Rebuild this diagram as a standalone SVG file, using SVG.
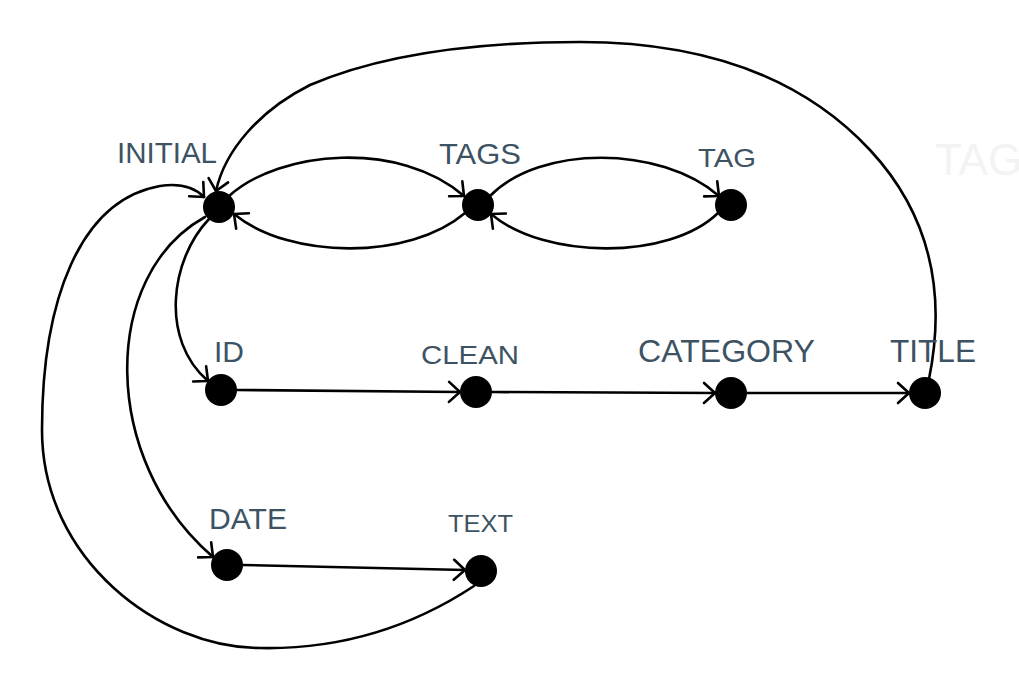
<svg xmlns="http://www.w3.org/2000/svg" width="1019" height="699" viewBox="0 0 1019 699">
<style>
.lbl{font-family:"Liberation Sans",Arial,sans-serif;fill:#3d5363}
.edge{fill:none;stroke:#000;stroke-width:2.6;stroke-linecap:round;marker-end:url(#arr)}
.node{fill:#000}
</style>
<defs>
<marker id="arr" markerUnits="userSpaceOnUse" viewBox="-14 -12 16 24" markerWidth="16" markerHeight="24" refX="0" refY="0" orient="auto">
<path d="M-11,-10 L0,0 L-11,10" fill="none" stroke="#000" stroke-width="2.6" stroke-linecap="round" stroke-linejoin="round"/>
</marker>
</defs>
<rect width="1019" height="699" fill="#fff"/>
<text x="935" y="175" font-size="44" font-family="Liberation Sans, Arial, sans-serif" fill="#f3f3f3">TAG</text>
<g id="connectors">
<path class="edge" d="M 929 379 C 945 300, 935 220, 870 150 C 800 75, 700 42, 580 42 C 470 42, 380 55, 310 85 C 260 110, 225 150, 216 191"/>
<path class="edge" d="M 229 196 C 280 150, 400 140, 464 196"/>
<path class="edge" d="M 465 213 C 410 260, 290 260, 234 214"/>
<path class="edge" d="M 490 196 C 540 145, 660 145, 719 196"/>
<path class="edge" d="M 718 213 C 670 260, 545 260, 491 214"/>
<path class="edge" d="M 209 219 C 170 260, 160 340, 208 381"/>
<path class="edge" d="M 205 217 C 100 275, 100 460, 213 557"/>
<path class="edge" d="M 474 586 C 430 615, 360 650, 260 648 C 160 648, 42 560, 42 430 C 42 300, 80 200, 160 186 C 180 183, 195 188, 204 197"/>
<path class="edge" d="M 237 390 L 460 392"/>
<path class="edge" d="M 492 392 L 715 393"/>
<path class="edge" d="M 747 393 L 909 393"/>
<path class="edge" d="M 243 565 L 465 570"/>
</g>
<g id="node-initial"><circle class="node" cx="219" cy="207" r="16"/><text class="lbl" x="117" y="163" font-size="29" textLength="100" lengthAdjust="spacingAndGlyphs">INITIAL</text></g>
<g id="node-tags"><circle class="node" cx="478" cy="205" r="16"/><text class="lbl" x="439" y="164" font-size="30" textLength="82" lengthAdjust="spacingAndGlyphs">TAGS</text></g>
<g id="node-tag"><circle class="node" cx="731" cy="205" r="16"/><text class="lbl" x="698" y="167" font-size="26" textLength="58" lengthAdjust="spacingAndGlyphs">TAG</text></g>
<g id="node-id"><circle class="node" cx="221" cy="390" r="16"/><text class="lbl" x="214" y="362" font-size="30" textLength="30" lengthAdjust="spacingAndGlyphs">ID</text></g>
<g id="node-clean"><circle class="node" cx="476" cy="392" r="16"/><text class="lbl" x="421" y="364" font-size="26" textLength="98" lengthAdjust="spacingAndGlyphs">CLEAN</text></g>
<g id="node-category"><circle class="node" cx="731" cy="393" r="16"/><text class="lbl" x="638" y="362" font-size="32" textLength="177" lengthAdjust="spacingAndGlyphs">CATEGORY</text></g>
<g id="node-title"><circle class="node" cx="925" cy="393" r="16"/><text class="lbl" x="890" y="362" font-size="32" textLength="86" lengthAdjust="spacingAndGlyphs">TITLE</text></g>
<g id="node-date"><circle class="node" cx="227" cy="565" r="16"/><text class="lbl" x="209" y="529" font-size="29" textLength="78" lengthAdjust="spacingAndGlyphs">DATE</text></g>
<g id="node-text"><circle class="node" cx="481" cy="571" r="16"/><text class="lbl" x="448" y="532" font-size="24" textLength="65" lengthAdjust="spacingAndGlyphs">TEXT</text></g>
</svg>
